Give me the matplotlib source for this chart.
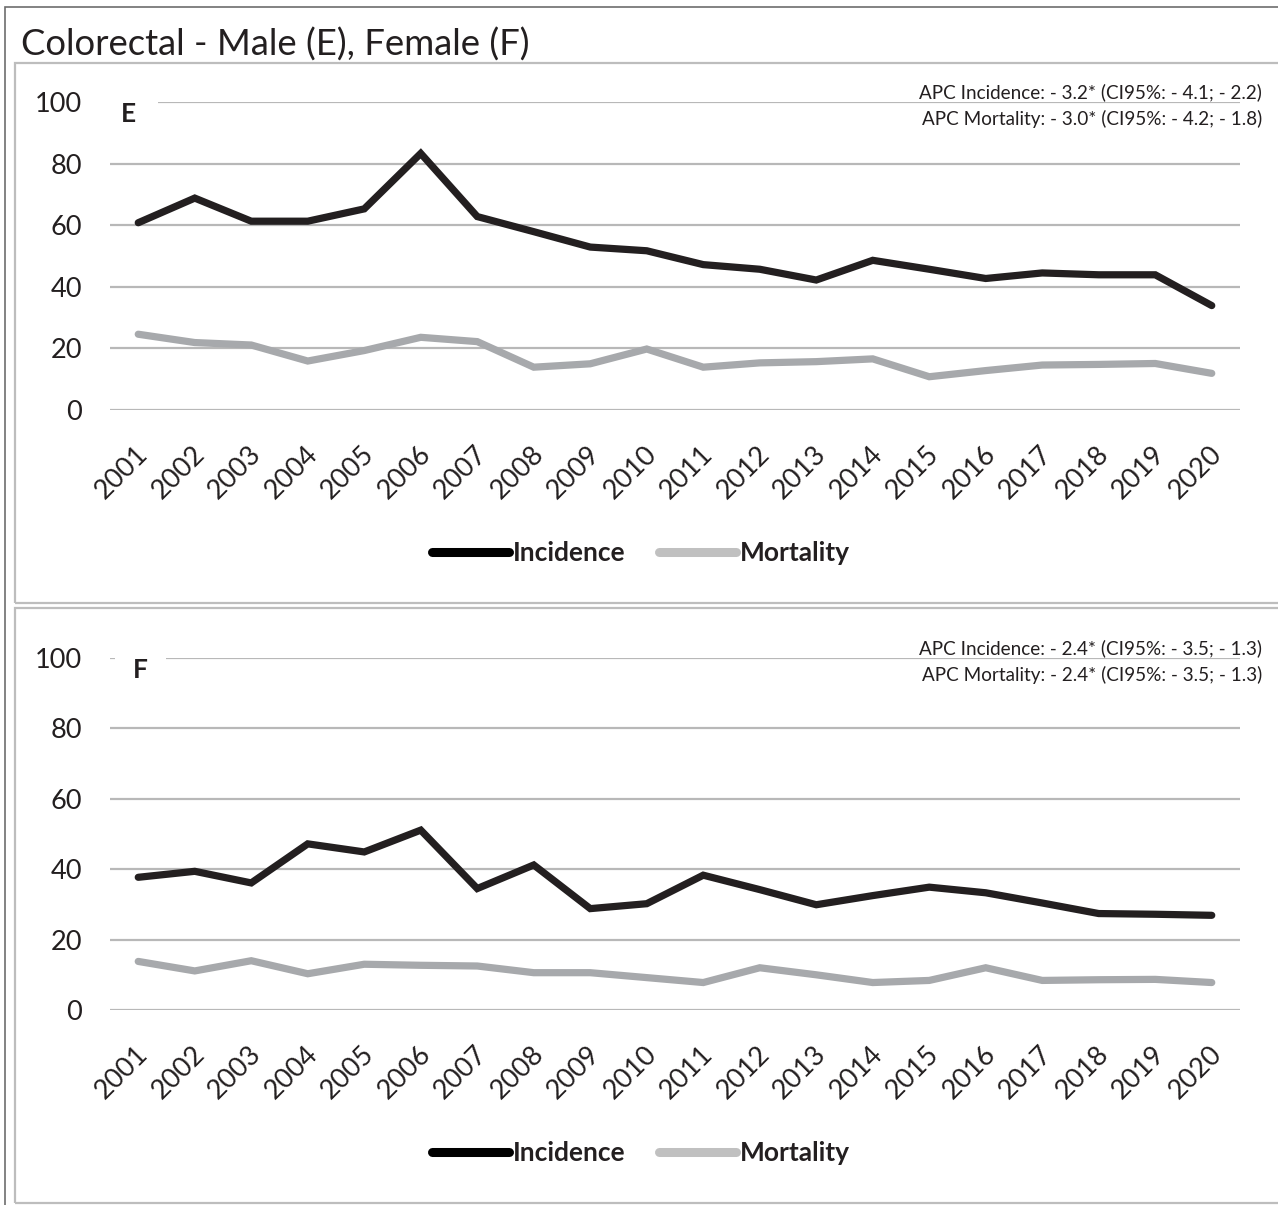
import numpy as np
import matplotlib.pyplot as plt
import matplotlib.transforms as mtransforms
from matplotlib.patches import Rectangle
from matplotlib.lines import Line2D

plt.rcParams['font.family'] = ['Lato', 'DejaVu Sans']

years = list(range(2001, 2021))

# Male (E)
inc_male = [60.8, 68.8, 61.3, 61.3, 65.3, 83.3, 62.8, 57.9, 52.9, 51.7,
            47.2, 45.7, 42.2, 48.6, 45.7, 42.7, 44.5, 43.9, 43.9, 33.9]
mort_male = [24.6, 21.9, 21.1, 15.9, 19.3, 23.6, 22.2, 13.9, 15.0, 19.8,
             13.9, 15.3, 15.7, 16.6, 10.8, 12.8, 14.6, 14.8, 15.1, 11.9]

# Female (F)
inc_female = [37.7, 39.4, 36.1, 47.2, 44.9, 51.1, 34.5, 41.2, 28.8, 30.2,
              38.3, 34.2, 29.9, 32.5, 34.9, 33.3, 30.4, 27.4, 27.2, 26.9]
mort_female = [13.8, 11.1, 14.0, 10.3, 13.0, 12.7, 12.5, 10.6, 10.6, 9.2,
               7.8, 12.0, 10.0, 7.8, 8.4, 12.0, 8.4, 8.6, 8.7, 7.8]

apc_male = ["APC Incidence: - 3.2* (CI95%: - 4.1; - 2.2)",
            "APC Mortality: - 3.0* (CI95%: - 4.2; - 1.8)"]
apc_female = ["APC Incidence: - 2.4* (CI95%: - 3.5; - 1.3)",
              "APC Mortality: - 2.4* (CI95%: - 3.5; - 1.3)"]

W, H = 1278, 1205
TXT = '#231f20'
INC_C = '#231f20'
MORT_C = '#a7a9ac'
GRID_C = '#b8b8b8'

fig = plt.figure(figsize=(W / 100, H / 100), dpi=100)


def frac(x0, y0, x1, y1):
    return [x0 / W, 1 - y1 / H, (x1 - x0) / W, (y1 - y0) / H]


# frames
fig.patches.append(Rectangle((5 / W, 1 - 1215 / H), 1290 / W, 1208 / H,
                             transform=fig.transFigure, fill=False,
                             ec='#6d6d6d', lw=1.2))
fig.patches.append(Rectangle((15 / W, 1 - 603 / H), 1280 / W, 540 / H,
                             transform=fig.transFigure, fill=False,
                             ec='#bdbdbd', lw=1.6))
fig.patches.append(Rectangle((15 / W, 1 - 1203 / H), 1280 / W, 595 / H,
                             transform=fig.transFigure, fill=False,
                             ec='#bdbdbd', lw=1.6))

fig.text(21 / W, 1 - 45 / H, "Colorectal - Male (E), Female (F)",
         fontsize=26.3, color=TXT, va='center', ha='left')

panels = [
    ("E", inc_male, mort_male, apc_male, (110, 102, 1240, 410), 553, 128.5, 0.85),
    ("F", inc_female, mort_female, apc_female, (110, 658, 1240, 1010), 1153, 140.5, 0.68),
]

shift = mtransforms.ScaledTranslation(6 / 100, 0, fig.dpi_scale_trans)

for letter, inc, mort, apc, box, leg_y, lx, lpad in panels:
    ax = fig.add_axes(frac(*box))
    ax.plot(years, inc, color=INC_C, lw=5.2, solid_joinstyle='miter',
            solid_capstyle='round', zorder=3)
    ax.plot(years, mort, color=MORT_C, lw=5.2, solid_joinstyle='miter',
            solid_capstyle='round', zorder=2)
    ax.set_xlim(2000.5, 2020.5)
    ax.set_ylim(0, 100)
    ax.set_yticks(range(0, 101, 20))
    ax.set_xticks(years)
    ax.set_xticklabels([str(y) for y in years], rotation=45, ha='right',
                       va='center', rotation_mode='anchor')
    ax.tick_params(axis='both', length=0, labelsize=19.5, colors=TXT)
    ax.tick_params(axis='y', pad=20)
    ax.tick_params(axis='x', pad=29)
    for lab in ax.get_xticklabels():
        lab.set_transform(lab.get_transform() + shift)
    ax.grid(axis='y', color=GRID_C, lw=1.6)
    ax.set_axisbelow(True)
    for s in ax.spines.values():
        s.set_visible(False)

    ax.text((lx - box[0]) / (box[2] - box[0]), 1.0, letter,
            transform=ax.transAxes, fontsize=19, fontweight='bold',
            color=TXT, ha='center', va='top',
            bbox=dict(fc='white', ec='none', boxstyle='square,pad=%.2f' % lpad))

    top = box[1]
    fig.text(1262 / W, 1 - (top - 4) / H, apc[0], fontsize=13.6, color=TXT,
             ha='right', va='baseline')
    fig.text(1262 / W, 1 - (top + 23) / H, apc[1], fontsize=13.6, color=TXT,
             ha='right', va='baseline')

    handles = [Line2D([], [], color='#000000', lw=6.5, solid_capstyle='round'),
               Line2D([], [], color='#c0c0c0', lw=6.5, solid_capstyle='round')]
    ax.legend(handles, ["Incidence", "Mortality"], ncol=2, frameon=False,
              loc='center', bbox_to_anchor=(641 / W, 1 - leg_y / H),
              bbox_transform=fig.transFigure, handlelength=2.9,
              handletextpad=0.15, columnspacing=1.3,
              prop={'size': 19, 'weight': 'bold'}, labelcolor=TXT)

fig.savefig("out.png", dpi=100)
